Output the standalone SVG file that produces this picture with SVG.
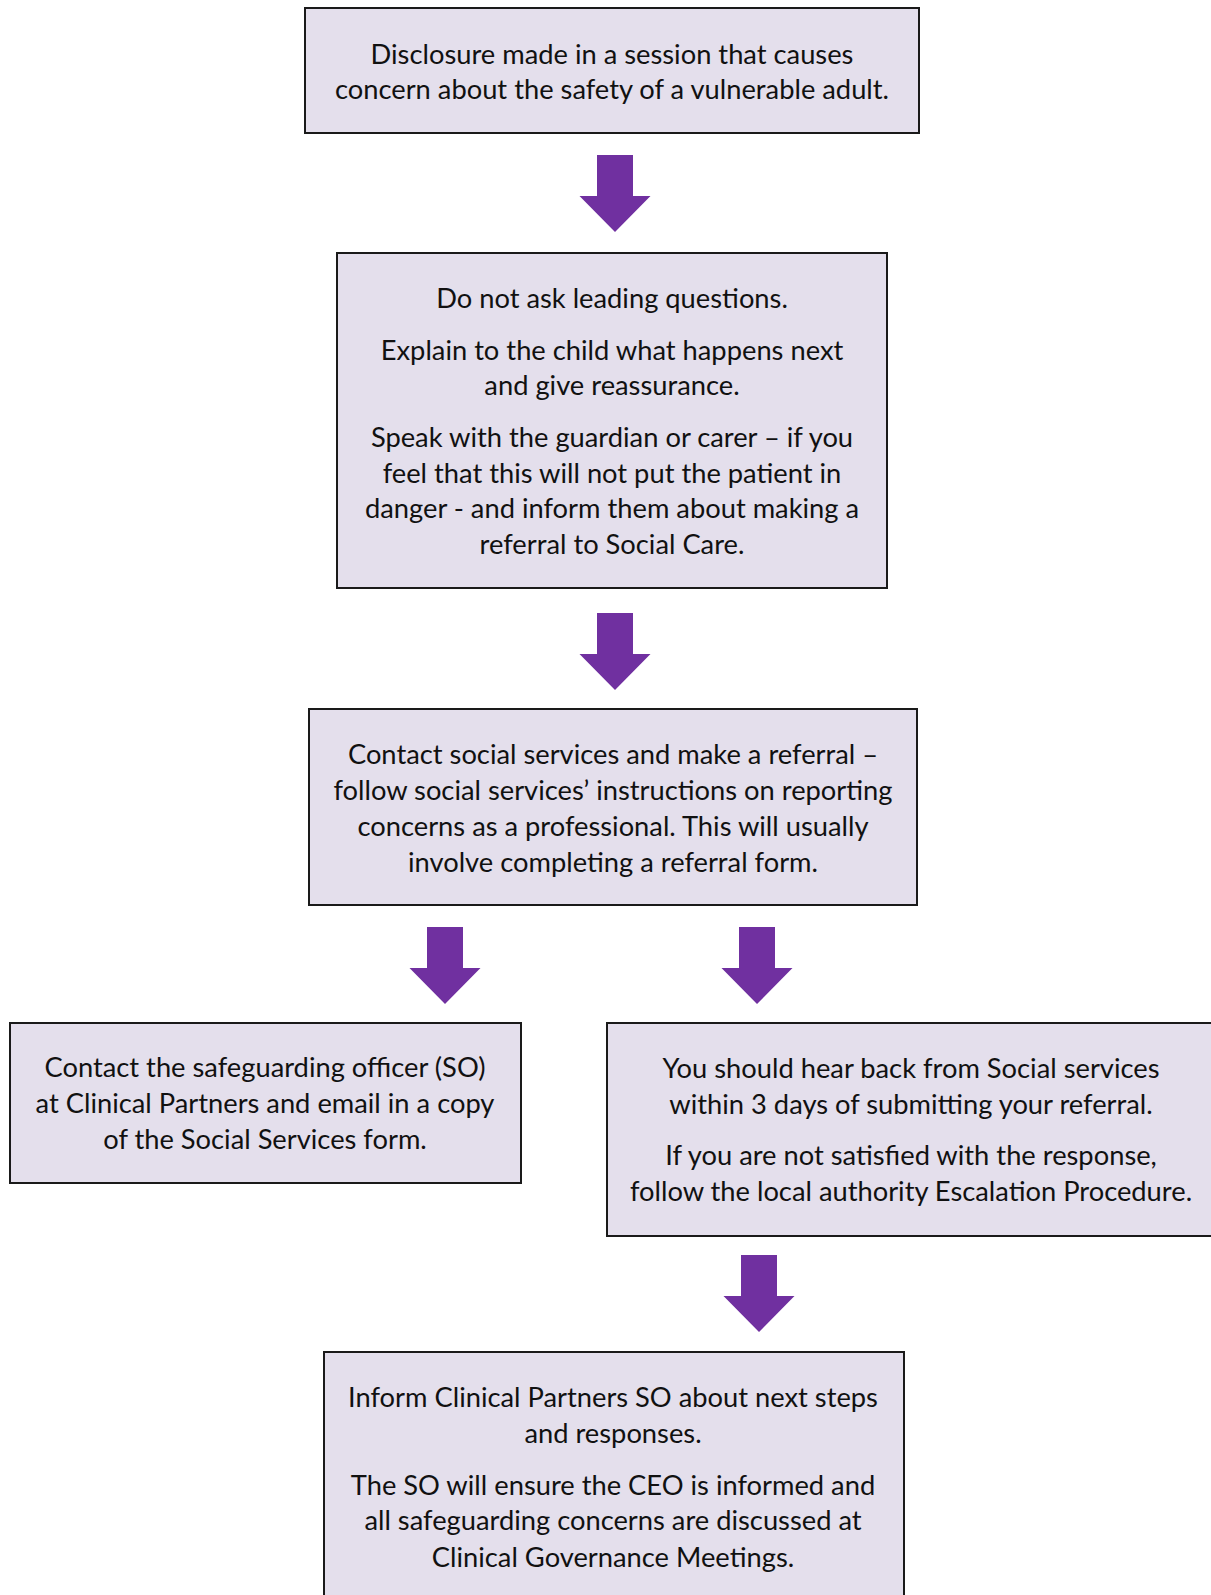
<svg xmlns="http://www.w3.org/2000/svg" width="1211" height="1595" viewBox="0 0 1211 1595">
<defs>
<style>
.box{fill:#E4DFEC;stroke:#1a1a1a;stroke-width:2}
.t{font-family:Lato,"Open Sans","Liberation Sans",sans-serif;font-size:27.3px;fill:#111;text-anchor:middle}
.arr{fill:#7030A0}
</style>
<path id="down" d="M-18,0 H18 V41 H35.5 L0,77 L-35.5,41 H-18 Z"/>
</defs>
<rect width="1211" height="1595" fill="#fff"/>
<g id="connectors">
<use href="#down" class="arr" x="615" y="155"/>
<use href="#down" class="arr" x="615" y="613"/>
<use href="#down" class="arr" x="445" y="927"/>
<use href="#down" class="arr" x="757" y="927"/>
<use href="#down" class="arr" x="759" y="1255"/>
</g>
<g id="n1">
<rect class="box" x="305" y="8" width="614" height="125"/>
<text class="t" x="612" y="64">Disclosure made in a session that causes</text>
<text class="t" x="612" y="99">concern about the safety of a vulnerable adult.</text>
</g>
<g id="n2">
<rect class="box" x="337" y="253" width="550" height="335"/>
<text class="t" x="612" y="308">Do not ask leading questions.</text>
<text class="t" x="612" y="360">Explain to the child what happens next</text>
<text class="t" x="612" y="395">and give reassurance.</text>
<text class="t" x="612" y="447">Speak with the guardian or carer – if you</text>
<text class="t" x="612" y="483">feel that this will not put the patient in</text>
<text class="t" x="612" y="518">danger - and inform them about making a</text>
<text class="t" x="612" y="554">referral to Social Care.</text>
</g>
<g id="n3">
<rect class="box" x="309" y="709" width="608" height="196"/>
<text class="t" x="613" y="764">Contact social services and make a referral –</text>
<text class="t" x="613" y="800">follow social services’ instructions on reporting</text>
<text class="t" x="613" y="836">concerns as a professional. This will usually</text>
<text class="t" x="613" y="872">involve completing a referral form.</text>
</g>
<g id="n4">
<rect class="box" x="10" y="1023" width="511" height="160"/>
<text class="t" x="265" y="1077">Contact the safeguarding officer (SO)</text>
<text class="t" x="265" y="1113">at Clinical Partners and email in a copy</text>
<text class="t" x="265" y="1149">of the Social Services form.</text>
</g>
<g id="n5">
<rect class="box" x="607" y="1023" width="610" height="213"/>
<text class="t" x="911" y="1078">You should hear back from Social services</text>
<text class="t" x="911" y="1114">within 3 days of submitting your referral.</text>
<text class="t" x="911" y="1165">If you are not satisfied with the response,</text>
<text class="t" x="911" y="1201">follow the local authority Escalation Procedure.</text>
</g>
<g id="n6">
<rect class="box" x="324" y="1352" width="580" height="250"/>
<text class="t" x="613" y="1407">Inform Clinical Partners SO about next steps</text>
<text class="t" x="613" y="1443">and responses.</text>
<text class="t" x="613" y="1495">The SO will ensure the CEO is informed and</text>
<text class="t" x="613" y="1530">all safeguarding concerns are discussed at</text>
<text class="t" x="613" y="1567">Clinical Governance Meetings.</text>
</g>
</svg>
